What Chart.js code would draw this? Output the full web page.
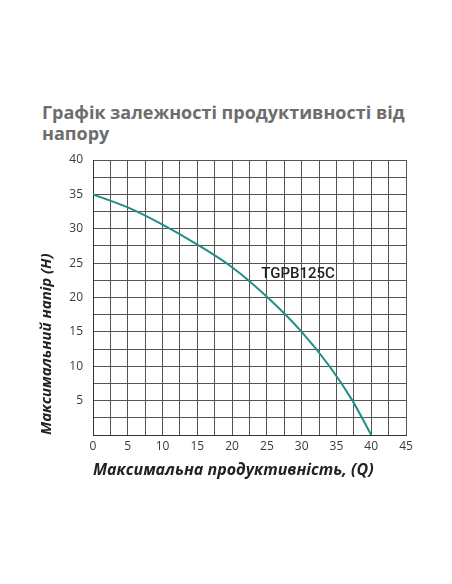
<!DOCTYPE html>
<html>
<head>
<meta charset="utf-8">
<script src="https://cdn.jsdelivr.net/npm/chart.js@4.4.0/dist/chart.umd.min.js"></script>
<style>
  body { margin: 0; background: #fff; }
  #wrap { position: relative; width: 452px; height: 584px; }
  h1 {
    position: absolute; left: 42px; top: 102px; margin: 0;
    font: bold 18px/21px "Open Sans", sans-serif; color: #6d6d6d;
    white-space: nowrap;
  }
  canvas { position: absolute; left: 0; top: 0; }
</style>
</head>
<body>
<div id="wrap">
  <h1>Графік залежності продуктивності від<br>напору</h1>
  <canvas id="pumpChart" width="452" height="584"></canvas>
</div>
<script>
// flow Q and head H
const flowQ = [0, 5, 10, 15, 20, 25, 30, 34, 37.3, 40];
const headH = [35, 33.1, 30.6, 27.7, 24.4, 20.1, 15, 10, 5, 0];
const modelName = 'TGPB125C';
const modelAt = { q: 24.2, h: 22.9 };

const xTitle = 'Максимальна продуктивність, (Q)';
const yTitle = 'Максимальний напір (H)';

const tickFont = { family: 'Open Sans', size: 12 };

const modelLabel = {
  id: 'modelLabel',
  afterDatasetsDraw(chart) {
    const ctx = chart.ctx;
    ctx.save();
    ctx.font = '500 15px Roboto';
    ctx.fillStyle = '#1e1e1e';
    ctx.textAlign = 'left';
    ctx.textBaseline = 'alphabetic';
    ctx.fillText(modelName, chart.scales.x.getPixelForValue(modelAt.q), chart.scales.y.getPixelForValue(modelAt.h));
    ctx.restore();
  }
};

const ctx = document.getElementById('pumpChart').getContext('2d');
new Chart(ctx, {
  type: 'scatter',
  data: {
    datasets: [{
      data: flowQ.map((q, i) => ({ x: q, y: headH[i] })),
      showLine: true,
      borderColor: '#1f8f84',
      borderWidth: 2,
      pointRadius: 0,
      cubicInterpolationMode: 'monotone'
    }]
  },
  options: {
    responsive: false,
    animation: false,
    layout: { padding: { left: 36, right: 46, top: 160, bottom: 99 } },
    plugins: { legend: { display: false }, tooltip: { enabled: false } },
    scales: {
      x: {
        type: 'linear', min: 0, max: 45,
        ticks: {
          stepSize: 2.5, autoSkip: false, maxRotation: 0, padding: 4,
          color: '#3a3a3a', font: tickFont,
          callback: v => (v % 5 === 0 ? String(v) : '')
        },
        grid: { color: '#555', lineWidth: 1, drawTicks: false },
        border: { color: '#333', width: 1 },
        title: {
          display: true, text: xTitle, align: 'start', color: '#222',
          font: { family: 'Open Sans', size: 16, weight: 'bold', style: 'italic' },
          padding: { top: 0, bottom: 5 }
        },
        afterFit(s) { s.height = 50; }
      },
      y: {
        min: 0, max: 40,
        ticks: {
          stepSize: 2.5, autoSkip: false, padding: 10,
          color: '#3a3a3a', font: tickFont,
          callback: v => (v % 5 === 0 && v !== 0 ? String(v) : '')
        },
        grid: { color: '#555', lineWidth: 1, drawTicks: false },
        border: { color: '#333', width: 1 },
        title: {
          display: true, text: yTitle, align: 'start', color: '#222',
          font: { family: 'Open Sans', size: 15, weight: 'bold', style: 'italic' },
          padding: { top: 2, bottom: 0 }
        },
        afterFit(s) { s.width = 57; }
      }
    }
  },
  plugins: [modelLabel]
});
</script>
</body>
</html>
